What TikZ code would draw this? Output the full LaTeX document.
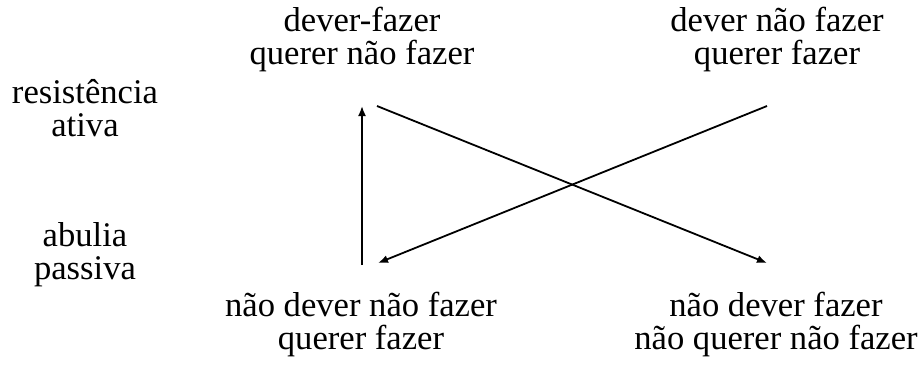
\documentclass[tikz,border=0pt]{standalone}
\usepackage{fontspec}
\setmainfont{Liberation Serif}
\usetikzlibrary{positioning,arrows.meta}

\begin{document}
\begin{tikzpicture}[x=0.5pt,y=-0.5pt,
    term/.style={align=center,inner sep=0pt,font=\fontsize{17.3}{16.5}\selectfont},
    arrow/.style={-{Latex[length=5pt,width=4pt]},line width=0.9pt}
  ]
    \useasboundingbox (0,0) rectangle (924,365);
    % quadrado
    \node[term] (tl) at (362,39) {dever-fazer\\querer não fazer};
    \node[term] (tr) at (777,39) {dever não fazer\\querer fazer};
    \node[term] (bl) at (361,324.5) {não dever não fazer\\querer fazer};
    \node[term] (br) at (776,324.5) {não dever fazer\\não querer não fazer};
    % eixo
    \node[term] (ativa) at (85,108.5) {resistência\\ativa};
    \node[term] (passiva) at (85,255) {abulia\\passiva};
    \draw[arrow] ([shift={(1,-59.5)}]bl.center) -- ([shift={(0,67)}]tl.center);
    \draw[arrow] ([shift={(15,67)}]tl.center) -- ([shift={(-9,-61.5)}]br.center);
    \draw[arrow] ([shift={(-10,67)}]tr.center) -- ([shift={(17,-61.5)}]bl.center);
  \end{tikzpicture}
\end{document}
